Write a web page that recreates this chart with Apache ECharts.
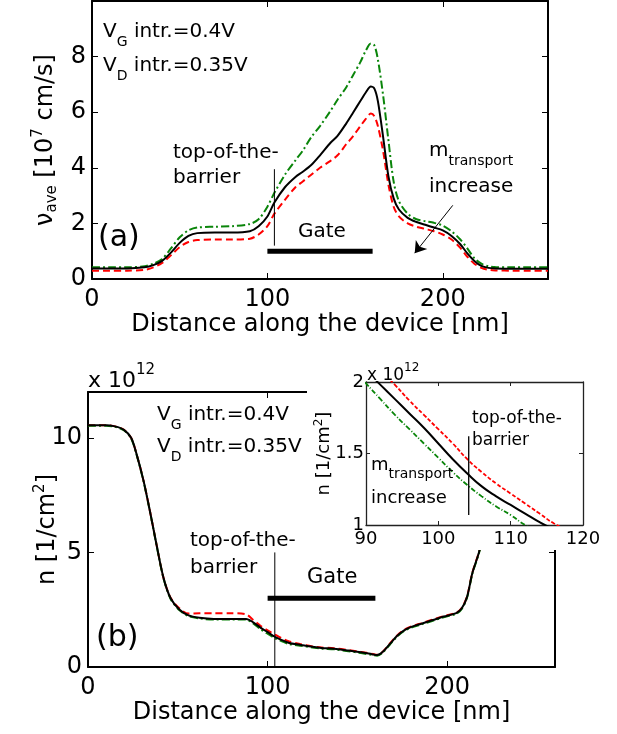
<!DOCTYPE html>
<html><head><meta charset="utf-8">
<script src="https://cdn.jsdelivr.net/npm/echarts@6/dist/echarts.min.js"></script>
<style>html,body{margin:0;padding:0;background:#fff}#c{width:617px;height:734px}</style>
</head><body><div id="c"></div><script>
// ---------- Panel (a): average velocity [1e7 cm/s] ----------
const xA = [0,10,20,30,35,40,45,50,55,60,70,80,90,95,100,104,110,116,120,125,130,136,140,145,149,153,156,159,161,163,166,169,172,175,180,185,190,195,200,205,210,214,218,222,226,230,240,250,260];
const blackA = [0.38,0.38,0.38,0.42,0.5,0.65,0.95,1.3,1.55,1.65,1.67,1.67,1.72,1.9,2.25,2.75,3.3,3.67,3.85,4.1,4.45,4.9,5.15,5.6,6.0,6.4,6.7,6.92,6.85,6.4,5.1,3.7,2.9,2.5,2.2,2.05,1.95,1.85,1.75,1.55,1.25,0.92,0.65,0.47,0.4,0.38,0.37,0.37,0.37];
const redA   = [0.3,0.3,0.3,0.33,0.42,0.58,0.85,1.15,1.33,1.4,1.42,1.42,1.45,1.6,1.9,2.35,2.85,3.3,3.5,3.75,4.0,4.25,4.45,4.85,5.15,5.5,5.75,5.95,5.85,5.5,4.6,3.4,2.6,2.25,2.0,1.88,1.8,1.72,1.6,1.42,1.12,0.8,0.55,0.4,0.33,0.31,0.3,0.3,0.3];
const greenA = [0.42,0.42,0.42,0.46,0.55,0.72,1.1,1.5,1.75,1.85,1.88,1.9,1.98,2.15,2.6,3.1,3.75,4.27,4.6,5.1,5.5,6.05,6.45,6.9,7.35,7.8,8.2,8.47,8.4,7.9,6.6,5.0,3.5,2.8,2.35,2.15,2.08,2.02,1.92,1.72,1.42,1.1,0.75,0.55,0.46,0.43,0.42,0.42,0.42];

// ---------- Panel (b): carrier density [1e12 1/cm^2] ----------
const xB = [0,10,15,20,24,27,31,35,38,42,46,51,56,62,70,80,88,92,96,100,104,108,112,118,125,130,137,145,152,158,161,164,168,172,176,180,186,192,198,205,208,211,214,218,222,226,230,235,240,250,260];
const blackB = [10.55,10.55,10.5,10.35,10.0,9.3,8.1,6.6,5.4,3.9,3.0,2.5,2.25,2.15,2.1,2.1,2.1,1.95,1.72,1.52,1.32,1.17,1.05,0.97,0.88,0.83,0.8,0.72,0.64,0.56,0.52,0.65,1.0,1.35,1.6,1.75,1.9,2.05,2.2,2.35,2.55,3.05,4.1,5.1,6.8,8.5,9.8,10.4,10.55,10.6,10.6];
const redB   = [10.55,10.55,10.5,10.35,10.0,9.3,8.1,6.6,5.4,3.9,3.02,2.55,2.33,2.35,2.35,2.35,2.3,2.05,1.8,1.6,1.42,1.25,1.12,1.0,0.9,0.85,0.82,0.74,0.66,0.58,0.53,0.66,1.02,1.37,1.62,1.77,1.92,2.07,2.22,2.37,2.57,3.07,4.12,5.12,6.8,8.5,9.8,10.4,10.55,10.6,10.6];
const greenB = [10.53,10.53,10.48,10.33,9.98,9.28,8.08,6.58,5.38,3.88,2.97,2.47,2.22,2.12,2.07,2.07,2.07,1.9,1.65,1.45,1.26,1.12,1.0,0.93,0.85,0.8,0.77,0.69,0.61,0.53,0.49,0.62,0.97,1.32,1.57,1.72,1.87,2.02,2.17,2.32,2.52,3.02,4.07,5.07,6.78,8.48,9.78,10.38,10.53,10.58,10.58];

// ---------- Inset of panel (b) ----------
const xIn = [88,90,92,94,96,98,100,102,104,106,108,110,112,114,116,118];
const blackIn = [2.18,2.08,1.98,1.88,1.78,1.68,1.57,1.46,1.36,1.27,1.2,1.14,1.08,1.02,0.97,0.93];
const redIn   = [2.28,2.18,2.08,1.98,1.87,1.77,1.67,1.57,1.46,1.37,1.29,1.22,1.15,1.08,1.01,0.96];
const greenIn = [2.1,1.99,1.88,1.77,1.67,1.57,1.47,1.37,1.28,1.2,1.13,1.07,1.0,0.95,0.9,0.86];

// annotation anchors (data units)
const gateX = [100, 160];
const gateLevelA = 1.0, gateLevelB = 3.0;
const barrierX = 104;
const barrierA = [1.2, 3.95];
const barrierB = [0, 5.0];
const barrierInX = 104.2;
const barrierIn = [1.07, 1.62];
const arrowA = [[205.7, 2.65], [184, 0.93]];
const arrowIn = [[96.8, 1.49], [100.2, 1.76]];

const FONT = 'DejaVu Sans';
const pairs = (xs, ys) => xs.map((x, i) => [x, ys[i]]);

const RED = {color:'#ff0000', width:2, type:[7,4]};
const GREEN = {color:'#0a850a', width:2, type:[8,3,2,3]};
const BLACK = {color:'#000', width:2, type:'solid'};

function axis(opts) {
  const o = {
    type:'value', gridIndex: opts.g, min: opts.min, max: opts.max, interval: opts.interval,
    position: opts.pos, z: opts.z || 0,
    axisLine: {show:true, onZero:false, lineStyle:{color: opts.lc || '#000', width: opts.lw || 2}},
    axisTick: {show:true, inside:true, length: opts.tl || 6, lineStyle:{color: opts.lc || '#000', width: 1}},
    axisLabel: {show: !!opts.label, margin: opts.margin || 8, showMaxLabel: opts.showMax || false, showMinLabel: true,
      fontFamily: FONT, fontSize: opts.fs || 24, color:'#000'},
    splitLine: {show:false}
  };
  if (opts.name) {
    o.name = opts.name; o.nameLocation = 'middle'; o.nameGap = opts.nameGap;
    o.nameRotate = opts.nameRotate;
    if (opts.noMove) o.nameMoveOverlap = false;
    o.nameTextStyle = {fontFamily: FONT, fontSize: opts.nfs || 24, color:'#000', rich: opts.rich};
  }
  return o;
}

function richSet(big, small, subPad, mainPad) {
  return {
    m: {fontFamily: FONT, fontSize: big, color:'#000', verticalAlign:'top', padding:[mainPad || 0,0,0,0]},
    s: {fontFamily: FONT, fontSize: small, color:'#000', verticalAlign:'top', padding:[subPad,0,0,0]},
    p: {fontFamily: FONT, fontSize: small, color:'#000', verticalAlign:'top', padding:[0,0,0,0]}
  };
}

const ynameRich = richSet(24, 15, 14, 3);
const insetNameRich = richSet(18, 12, 0, 2);

const option = {
  animation: false,
  backgroundColor: '#fff',
  grid: [
    {left: 92, top: 1, width: 456, height: 278},
    {left: 88, top: 392, width: 467, height: 275},
    {left: 366, top: 382, width: 217, height: 143}
  ],
  xAxis: [
    axis({g:0, min:0, max:260, interval:100, pos:'bottom', label:true, margin:9,
      name:'Distance along the device [nm]', nameGap:31, nfs:24}),
    axis({g:0, min:0, max:260, interval:100, pos:'top'}),
    axis({g:1, min:0, max:260, interval:100, pos:'bottom', label:true, margin:9,
      name:'Distance along the device [nm]', nameGap:33, nfs:24}),
    axis({g:1, min:0, max:260, interval:100, pos:'top'}),
    axis({g:2, min:90, max:120, interval:10, pos:'bottom', label:true, showMax:true, fs:18, margin:5, lc:'#222', lw:1.3, tl:4, z:20}),
    axis({g:2, min:90, max:120, interval:10, pos:'top', lc:'#222', lw:1.3, tl:4, z:20})
  ],
  yAxis: [
    axis({g:0, min:0, max:10, interval:2, pos:'left', label:true, margin:6, noMove:true,
      name:'{m|\u03bd}{s|ave}{m| [10}{p|7}{m| cm/s]}', nameGap:32, nameRotate:90, rich: ynameRich}),
    axis({g:0, min:0, max:10, interval:2, pos:'right'}),
    axis({g:1, min:0, max:12, interval:5, pos:'left', label:true, margin:6, noMove:true,
      name:'{m|n [1/cm}{p|2}{m|]}', nameGap:28, nameRotate:90, rich: ynameRich}),
    axis({g:1, min:0, max:12, interval:5, pos:'right'}),
    axis({g:2, min:1, max:2, interval:0.5, pos:'left', label:true, showMax:true, fs:18, margin:2, lc:'#222', lw:1.3, tl:4, z:20, noMove:true,
      name:'{m|n [1/cm}{p|2}{m|]}', nameGap:33, nameRotate:90, nfs:18, rich: insetNameRich}),
    axis({g:2, min:1, max:2, interval:0.5, pos:'right', lc:'#222', lw:1.3, tl:4, z:20})
  ],
  series: [
    // panel (a)
    {type:'line', xAxisIndex:0, yAxisIndex:0, data:pairs(xA, redA), showSymbol:false, smooth:0.3, lineStyle:RED, z:3},
    {type:'line', xAxisIndex:0, yAxisIndex:0, data:pairs(xA, greenA), showSymbol:false, smooth:0.3, lineStyle:GREEN, z:3},
    {type:'line', xAxisIndex:0, yAxisIndex:0, data:pairs(xA, blackA), showSymbol:false, smooth:0.3, lineStyle:BLACK, z:4,
      markLine:{silent:true, symbol:['none','arrow'], symbolSize:11, label:{show:false},
        lineStyle:{color:'#000', width:1, type:'solid'},
        data:[[{coord:arrowA[0]},{coord:arrowA[1]}]]}},
    {type:'line', xAxisIndex:0, yAxisIndex:0, data:[[gateX[0], gateLevelA],[gateX[1], gateLevelA]], showSymbol:false, lineStyle:{color:'#000', width:5}, z:4},
    {type:'line', xAxisIndex:0, yAxisIndex:0, data:[[barrierX, barrierA[0]],[barrierX, barrierA[1]]], showSymbol:false, lineStyle:{color:'#000', width:1}, z:4},
    // panel (b)
    {type:'line', xAxisIndex:2, yAxisIndex:2, data:pairs(xB, redB), showSymbol:false, smooth:0.3, lineStyle:RED, z:3},
    {type:'line', xAxisIndex:2, yAxisIndex:2, data:pairs(xB, greenB), showSymbol:false, smooth:0.3, lineStyle:GREEN, z:3},
    {type:'line', xAxisIndex:2, yAxisIndex:2, data:pairs(xB, blackB), showSymbol:false, smooth:0.3, lineStyle:BLACK, z:4},
    {type:'line', xAxisIndex:2, yAxisIndex:2, data:[[gateX[0], gateLevelB],[gateX[1], gateLevelB]], showSymbol:false, lineStyle:{color:'#000', width:5}, z:4},
    {type:'line', xAxisIndex:2, yAxisIndex:2, data:[[barrierX, barrierB[0]],[barrierX, barrierB[1]]], showSymbol:false, lineStyle:{color:'#000', width:1}, z:4},
    // inset
    {type:'line', xAxisIndex:4, yAxisIndex:4, data:pairs(xIn, redIn), showSymbol:false, smooth:0.5, lineStyle:{color:'#ff0000', width:1.8, type:[4,2]}, z:21},
    {type:'line', xAxisIndex:4, yAxisIndex:4, data:pairs(xIn, greenIn), showSymbol:false, smooth:0.5, lineStyle:{color:'#0a850a', width:1.8, type:[5,2,1,2]}, z:21},
    {type:'line', xAxisIndex:4, yAxisIndex:4, data:pairs(xIn, blackIn), showSymbol:false, smooth:0.5, lineStyle:{color:'#000', width:2}, z:22,
      markLine:{silent:true, symbol:['none','arrow'], symbolSize:11, label:{show:false},
        lineStyle:{color:'#000', width:1.3, type:'solid'},
        data:[[{coord:arrowIn[0]},{coord:arrowIn[1]}]]}},
    {type:'line', xAxisIndex:4, yAxisIndex:4, data:[[barrierInX, barrierIn[0]],[barrierInX, barrierIn[1]]], showSymbol:false, lineStyle:{color:'#000', width:1.3}, z:22}
  ]
};

function txt(x, y, text, fs, rich, va) {
  return {type:'text', x:x, y:y, z:30, silent:true,
    style:{text:text, fontFamily:FONT, fontSize:fs, fill:'#000', align:'left', verticalAlign: va || 'top', rich: rich}};
}
const rA = richSet(20, 14, 13);
const rIn = richSet(18, 14, 11);
const rX = richSet(22, 15, 0, 7);
const rXi = richSet(17, 12, 0, 5);

option.graphic = [
  {type:'rect', z:10, silent:true, shape:{x:307, y:338, width:310, height:212}, style:{fill:'#fff'}},
  // panel (a)
  txt(103, 22, '{m|V}{s|G}{m| intr.=0.4V}', 20, rA),
  txt(103, 56, '{m|V}{s|D}{m| intr.=0.35V}', 20, rA),
  txt(98, 238, '(a)', 30, null, 'middle'),
  txt(173, 143, 'top-of-the-', 20),
  txt(173, 168, 'barrier', 20),
  txt(298, 222, 'Gate', 20),
  txt(429, 141, '{m|m}{s|transport}', 20, rA),
  txt(429, 177, 'increase', 20),
  // panel (b)
  txt(88, 363, '{m|x 10}{p|12}', 22, rX),
  txt(157, 405, '{m|V}{s|G}{m| intr.=0.4V}', 20, rA),
  txt(157, 437, '{m|V}{s|D}{m| intr.=0.35V}', 20, rA),
  txt(96, 638, '(b)', 30, null, 'middle'),
  txt(190, 531, 'top-of-the-', 20),
  txt(190, 558, 'barrier', 20),
  txt(307, 567, 'Gate', 21),
  // inset
  txt(367, 362, '{m|x 10}{p|12}', 17, rXi),
  txt(472, 410, 'top-of-the-', 17),
  txt(472, 432, 'barrier', 17),
  txt(371, 456, '{m|m}{s|transport}', 18, rIn),
  txt(371, 489, 'increase', 18)
];

const chart = echarts.init(document.getElementById('c'), null, {renderer:'canvas'});
chart.setOption(option);
</script></body></html>
